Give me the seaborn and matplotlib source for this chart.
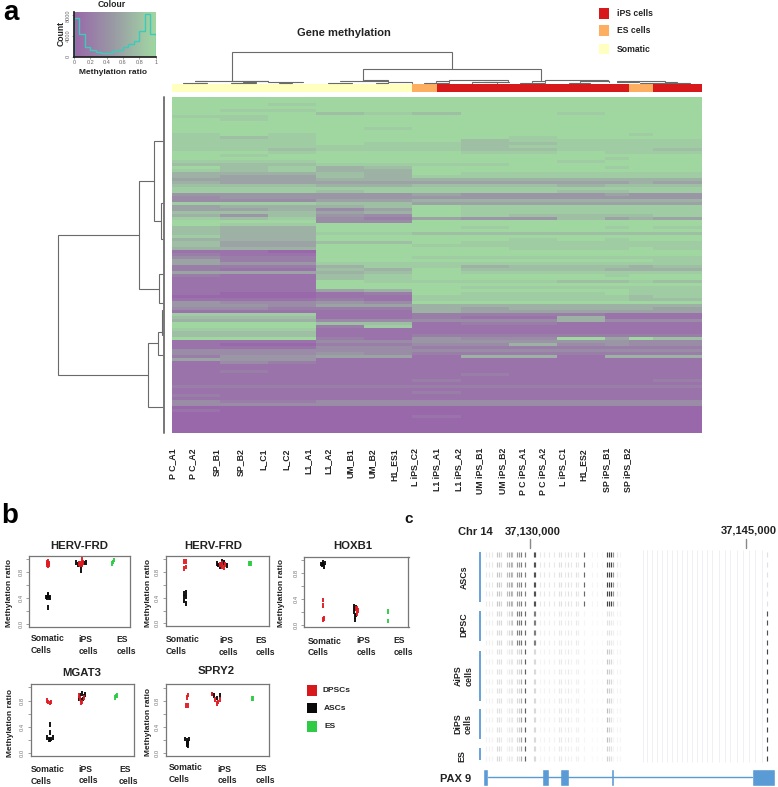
import numpy as np
import pandas as pd
import matplotlib
matplotlib.use("Agg")
import matplotlib.pyplot as plt
import seaborn as sns
from matplotlib.colors import LinearSegmentedColormap, ListedColormap
from matplotlib.patches import Rectangle

# PANEL A DATA

sample_names = ["P C_A1", "P C_A2", "SP_B1", "SP_B2", "L_C1", "L_C2", "L1_A1", "L1_A2",
                "UM_B1", "UM_B2", "H1_ES1", "L iPS_C2", "L1 iPS_A1", "L1 iPS_A2",
                "UM iPS_B1", "UM iPS_B2", "P C iPS_A1", "P C iPS_A2", "L iPS_C1",
                "H1_ES2", "SP iPS_B1", "SP iPS_B2"]
sample_class = [2, 2, 2, 2, 2, 2, 2, 2, 2, 2, 1, 0, 0, 0, 0, 0, 0, 0, 0, 1, 0, 0]
class_names = ["iPS cells", "ES cells", "Somatic"]

# one digit per sample block, 0 = unmethylated, 9 = methylated
block_width = [2, 2, 2, 2, 2, 2, 2, 2, 2, 1, 1, 2]
heat_rows = [
    "999999999999", "999999999999", "998999999999", "999999999999", "988999999999",
    "999787998999", "889999999999", "989999999999", "999999999999", "999999999999",
    "999989999999", "999999999999", "898999999989", "878999989999", "888999788888",
    "888988778888", "888888788888", "887888778887", "998999889888", "989999999999",
    "999999999899", "888999998999", "777888899999", "978679999899", "878669999999",
    "666769888888", "655768888888", "555666666666", "655555555565", "777667776777",
    "888888888888", "888788887788", "444445444544", "344444444444", "333556666666",
    "888775555555", "566679888888", "556359888888", "777569888888", "647439877778",
    "878325447565", "999339999999", "988999999999", "766999899898", "766999999999",
    "766887777777", "866999999999", "666999989899", "755779888888", "755998888888",
    "666999988898", "110999999999", "211999999999", "322998888888", "522999999998",
    "544888888888", "222688677767", "211769777666", "555679888888", "211789999899",
    "111789999999", "111988887787", "111999999999", "111999888888", "111569999988",
    "100129888988", "000118888878", "111218888877", "433439999999", "443556666666",
    "332226566665", "111116555555", "888112222111", "777112116111", "666333336333",
    "999771221111", "999281111111", "888111111111", "777111111111", "777112222222",
    "999214339597", "111334444433", "100223363433", "111332222222", "333333333333",
    "333432222222", "244551661666", "544111111111", "132111111111", "111111111111",
    "111111111111", "121111111111", "111111211111", "111111111111", "111112111112",
    "111111111111", "222222222222", "111111111111", "111112111111", "211111111111",
    "111111111111", "322333333333", "333333333333", "000000000000", "100000000000",
    "000000000000", "000001000000", "000000000000", "000000000000", "000000000000",
    "000000000000", "000000000000",
]

hist_edges = [0, 0.067, 0.133, 0.2, 0.267, 0.333, 0.4, 0.467, 0.533, 0.6, 0.667, 0.733, 0.8, 0.867, 0.933, 1]
hist_counts = [7400, 4300, 1900, 1300, 1000, 800, 800, 1100, 1300, 1800, 2400, 3100, 5000, 8300, 4300]

# PANEL B DATA (x: 1 somatic, 2 iPS, 3 ES)

p1_asc_x = [0.94, 0.97, 1.0, 1.03, 1.06, 1.0, 1.0, 1.95, 2.05, 1.85, 2.15, 2.0, 2.0, 1.9, 2.1]
p1_asc_y = [0.42, 0.41, 0.44, 0.40, 0.41, 0.46, 0.26, 0.94, 0.93, 0.95, 0.95, 0.83, 0.90, 0.92, 0.94]
p1_dps_x = [0.97, 1.0, 1.03, 0.97, 1.03, 1.0, 1.93, 1.97, 2.0, 2.03, 2.07, 2.03]
p1_dps_y = [0.95, 0.97, 0.94, 0.92, 0.92, 0.90, 0.93, 0.92, 0.94, 0.92, 0.95, 1.0]
p1_es_x = [2.96, 2.98, 3.0]
p1_es_y = [0.93, 0.96, 0.99]

p2_asc_x = [0.98, 1.03, 0.97, 1.03, 0.97, 1.03, 2.0, 2.08, 2.16, 2.24, 2.04, 2.12, 1.96]
p2_asc_y = [0.47, 0.49, 0.41, 0.42, 0.35, 0.31, 0.91, 0.92, 0.95, 0.90, 0.89, 0.96, 0.93]
p2_dps_x = [0.98, 1.04, 0.98, 1.04, 2.04, 2.1, 2.16, 2.2, 2.12]
p2_dps_y = [0.96, 0.96, 0.86, 0.88, 0.92, 0.88, 0.87, 0.92, 0.93]
p2_es_x = [2.9, 2.93, 2.96]
p2_es_y = [0.93, 0.93, 0.93]

p3_asc_x = [0.94, 0.97, 1.0, 1.03, 1.06, 1.0, 1.9, 1.93, 1.96, 1.9, 1.93, 1.96, 1.93]
p3_asc_y = [0.94, 0.92, 0.94, 0.90, 0.95, 0.96, 0.28, 0.25, 0.27, 0.2, 0.13, 0.15, 0.07]
p3_dps_x = [0.98, 0.98, 0.98, 1.02, 1.96, 2.0, 2.03, 1.98]
p3_dps_y = [0.38, 0.30, 0.08, 0.10, 0.25, 0.26, 0.22, 0.17]
p3_es_x = [2.91, 2.91]
p3_es_y = [0.20, 0.06]

p4_asc_x = [1.0, 1.0, 0.92, 0.96, 1.0, 1.04, 1.08, 1.85, 1.9, 1.95, 2.0, 2.05, 1.92, 1.98]
p4_asc_y = [0.44, 0.32, 0.24, 0.21, 0.20, 0.22, 0.24, 0.83, 0.88, 0.91, 0.87, 0.89, 0.81, 0.82]
p4_dps_x = [0.9, 0.95, 1.0, 1.04, 1.85, 1.9, 1.95, 2.0, 1.93]
p4_dps_y = [0.80, 0.78, 0.76, 0.78, 0.88, 0.83, 0.78, 0.85, 0.76]
p4_es_x = [2.92, 2.95, 2.98]
p4_es_y = [0.85, 0.87, 0.88]

p5_asc_x = [1.02, 1.06, 1.1, 1.14, 1.06, 1.1, 1.06, 1.1, 1.8, 1.88, 1.96, 2.04]
p5_asc_y = [0.22, 0.2, 0.17, 0.22, 0.15, 0.16, 0.13, 0.12, 0.9, 0.88, 0.84, 0.88]
p5_dps_x = [1.06, 1.1, 1.05, 1.1, 1.82, 1.9, 1.95, 2.0, 2.05]
p5_dps_y = [0.85, 0.89, 0.73, 0.73, 0.9, 0.82, 0.76, 0.78, 0.82]
p5_es_x = [3.0, 3.04]
p5_es_y = [0.83, 0.83]

gene_names = ["HERV-FRD", "HERV-FRD", "HOXB1", "MGAT3", "SPRY2"]

# PANEL C DATA (positions are bp relative to 37,130,000)

cpg_pos = [-3033, -2847, -2639, -2269, -2130, -1991, -1597, -1458, -1320, -1204, -857, -718,
           -579, -347, 301, 370, 718, 995, 1343, 1690, 2060, 2199, 2454, 2685, 2847, 3195,
           3334, 3773, 4306, 4653, 5000, 5394, 5510, 5672, 5811, 6088, 6274, 16506]
asc_level = [.2, .2, .2, .4, .4, .3, .45, .5, .5, .45, .6, .6, .7, .7, .9, .9, .2, .2, .2, .2,
             .25, .25, .2, .25, .2, .25, .2, .8, .1, .1, .1, .95, .95, .95, .6, .2, .1, .25]
dps_level = [.15, .15, .15, .3, .3, .3, .2, .3, .3, .4, .7, .7, .75, .8, .7, .7, .15, .15, .15,
             .15, .2, .2, .15, .2, .15, .2, .15, .1, .05, .05, .05, .25, .25, .2, .15, .1, .1, .9]
aip_level = [.12, .12, .12, .25, .25, .25, .12, .2, .2, .2, .3, .3, .5, .85, .3, .3, .1, .12,
             .12, .12, .2, .2, .15, .2, .12, .15, .15, .1, .05, .05, .05, .4, .35, .3, .1, .1, .1, .95]
dip_level = [.12, .12, .12, .25, .25, .2, .12, .2, .15, .2, .3, .35, .55, .85, .3, .3, .1, .12,
             .12, .12, .2, .2, .15, .2, .12, .15, .15, .1, .05, .05, .05, .45, .35, .25, .1, .1, .1, .95]
esc_level = [.12, .12, .12, .3, .3, .2, .12, .2, .15, .15, .3, .25, .5, .85, .3, .3, .1, .1, .12,
             .12, .2, .2, .15, .15, .12, .15, .15, .1, .05, .05, .05, .35, .3, .25, .1, .1, .1, .95]
group_sizes = [6, 4, 6, 4, 2]
faint_pos = [7848, 8172, 8519, 8843, 9167, 9515, 9862, 10209, 10556, 10904, 11251, 11598, 11945,
             12293, 12640, 13149, 13566, 13913, 14376, 14839, 15255, 15649, 16112]
exon_start = [-3218, 880, 2107, 5625, 15464]
exon_end = [-2870, 1343, 2732, 5834, 17038]

# DENDROGRAMS, read in pixels of the picture

top_links = [(231.7, 452, 52, 81, 69.3), (363, 541, 69.3, 81, 80),
             (183, 207, 83, 83, 83), (195, 207, 81, 81, 81), (195, 268, 80.5, 81, 81),
             (231, 256, 83, 83, 83), (243, 256, 82, 82, 82), (231, 268, 81, 81, 81),
             (268, 303, 82, 82, 82), (279, 292, 82.5, 83, 83), (328, 352, 83, 83, 83),
             (340, 352, 81, 81, 81), (352, 388, 81, 81, 81), (376, 388, 83, 83, 83),
             (364, 388, 80, 81, 81), (388, 412, 82, 83, 83), (424, 449, 83, 83, 83),
             (436, 449, 81, 82, 82), (449, 508, 80, 81, 81), (472, 497, 82, 83, 83),
             (484, 509, 81.5, 82, 82), (520, 545, 82.5, 83, 83), (532, 545, 81, 82, 82),
             (545, 608, 80, 81, 81), (569, 590, 83, 83, 83), (580, 609, 81, 82, 82),
             (617, 639, 81.5, 82, 82), (640, 665, 82.5, 83, 83), (665, 690, 83, 83, 83),
             (665, 677, 82, 83, 83), (617, 665, 81, 82, 82)]
left_links = [(235, 375.3, 58.3, 139, 148.3), (180.7, 289, 139, 154.3, 159.3),
              (141, 220.7, 154.3, 162.7, 161.3), (274, 303, 159.3, 162.7, 162.7),
              (202.7, 239, 161.3, 163, 163), (343, 407, 148.3, 158.3, 163),
              (331.7, 355, 158.3, 162, 162.7), (310, 335, 162, 163, 163)]

label_x = [172.7, 193, 216, 240.7, 263, 285.7, 308, 328, 350, 371.7, 394, 415, 436.7, 459, 480,
           502.7, 523, 543, 562.7, 583, 607, 628]

W, H = 778, 787
FONT = ["Liberation Sans", "DejaVu Sans"]
purple_green = LinearSegmentedColormap.from_list(
    "meth", [(0, "#9968AA"), (0.5, "#9A9CA4"), (0.89, "#A0CCA4"), (1, "#A0D6A0")])
class_colors = ["#D7191C", "#FDAE61", "#FFFFBF"]
type_colors = {"ASC": "#0a0a0a", "DPSC": "#E01B22", "ES": "#2FCB45"}

sns.set_theme(style="white")
plt.rcParams["font.family"] = FONT
fig = plt.figure(figsize=(W / 100, H / 100), dpi=100)


def panel(x0, y0, x1, y1):
    return fig.add_axes([x0 / W, 1 - y1 / H, (x1 - x0) / W, (y1 - y0) / H])


# heatmap and its class bar

heat = np.array([np.repeat([int(c) / 9 for c in row], block_width) for row in heat_rows])
heat_df = pd.DataFrame(heat, columns=sample_names)
ax_heat = panel(171.5, 97, 701.5, 433)
sns.heatmap(heat_df, ax=ax_heat, cmap=purple_green, vmin=0, vmax=1, cbar=False,
            xticklabels=False, yticklabels=False)
ax_heat.set_xlabel("")
ax_heat.set_ylabel("")

ax_bar = panel(171.5, 84.3, 701.5, 92)
sns.heatmap(np.array([sample_class]), ax=ax_bar, cmap=ListedColormap(class_colors), vmin=0, vmax=2,
            cbar=False, xticklabels=False, yticklabels=False)

# colour key

ax_key = panel(74, 12, 155.7, 56.7)
ax_key.imshow(np.linspace(0, 1, 128).reshape(1, -1), cmap=purple_green, aspect="auto",
              extent=(0, 1, 0, 8650), vmin=0, vmax=1)
ax_key.stairs(hist_counts, hist_edges, color="#3BCBBB", lw=1)
ax_key.set_xticks([0, 0.2, 0.4, 0.6, 0.8, 1], ["0", "0.2", "0.4", "0.6", "0.8", "1"])
ax_key.set_yticks([0, 4000, 8000], ["0", "4000", "8000"])
ax_key.tick_params(axis="both", labelsize=4, colors="#666666", length=1.5, width=0.4, pad=1, bottom=True, left=True)
ax_key.tick_params(axis="y", labelrotation=90)
for lab in ax_key.get_yticklabels():
    lab.set_va("center")
for s in ax_key.spines.values():
    s.set_visible(False)
ax_key.spines["left"].set_visible(True)
ax_key.spines["left"].set_color("#222222")
ax_key.spines["bottom"].set_visible(True)
ax_key.spines["bottom"].set_color("#222222")

# panel b strips

strip_boxes = [(29.3, 56, 130, 126.7), (165.5, 56, 269, 126), (304, 56.7, 408.5, 127.3),
               (30.7, 184, 134.3, 256), (165.7, 184.3, 268.5, 256)]
strip_data = [(p1_asc_x, p1_asc_y, p1_dps_x, p1_dps_y, p1_es_x, p1_es_y),
              (p2_asc_x, p2_asc_y, p2_dps_x, p2_dps_y, p2_es_x, p2_es_y),
              (p3_asc_x, p3_asc_y, p3_dps_x, p3_dps_y, p3_es_x, p3_es_y),
              (p4_asc_x, p4_asc_y, p4_dps_x, p4_dps_y, p4_es_x, p4_es_y),
              (p5_asc_x, p5_asc_y, p5_dps_x, p5_dps_y, p5_es_x, p5_es_y)]

for box, pts in zip(strip_boxes, strip_data):
    ax = panel(box[0], box[1] + 500, box[2], box[3] + 500)
    df = pd.DataFrame({
        "x": list(pts[0]) + list(pts[2]) + list(pts[4]),
        "y": list(pts[1]) + list(pts[3]) + list(pts[5]),
        "kind": ["ASC"] * len(pts[0]) + ["DPSC"] * len(pts[2]) + ["ES"] * len(pts[4]),
    })
    sns.scatterplot(data=df, x="x", y="y", hue="kind", palette=type_colors, marker="|", s=11,
                    linewidth=1.35, legend=False, ax=ax)
    ax.set_xlim(0.43, 3.5)
    ax.set_ylim(-0.04, 1.05)
    ax.set_xlabel("")
    ax.set_ylabel("")
    ax.set_xticks([])
    ax.set_yticks([0, 0.2, 0.4, 0.6, 0.8, 1.0], ["0.0", "", "0.4", "", "0.8", ""])
    ax.tick_params(axis="y", left=True, labelsize=4.2, labelcolor="#777777", color="#777777",
                   length=2.5, width=0.5, pad=1.5, labelrotation=90)
    for lab in ax.get_yticklabels():
        lab.set_va("center")
    for s in ax.spines.values():
        s.set_color("#777777")
        s.set_linewidth(0.9)

# panel c methylation tracks

level_groups = [asc_level, dps_level, aip_level, dip_level, esc_level]
rows = []
row_no = 0
for levels, size in zip(level_groups, group_sizes):
    for i in range(size):
        for pos, lev in zip(cpg_pos, levels):
            rows.append({"pos": pos, "row": row_no, "level": lev})
        row_no += 1
track_df = pd.DataFrame(rows)

ax_c = panel(483.3, 550, 776.7, 763.3)
ax_c.vlines(faint_pos, -0.5, 21.3, color="#ECECF4", lw=0.6)
sns.scatterplot(data=track_df, x="pos", y="row", hue="level", palette="Greys", hue_norm=(0, 1.2),
                marker="|", s=13, linewidth=0.85, legend=False, ax=ax_c)
ax_c.set_xlim(-3218, 17154)
ax_c.set_ylim(21.48, -0.51)
ax_c.axis("off")

ax_gene = panel(483.3, 768.5, 776.7, 786)
ax_gene.plot([exon_end[0], exon_start[-1]], [0, 0], color="#5B9BD5", lw=1)
ax_gene.barh([0] * len(exon_start), np.array(exon_end) - np.array(exon_start), left=exon_start,
             height=1, color="#5B9BD5")
ax_gene.set_xlim(-3218, 17154)
ax_gene.set_ylim(-0.5, 0.5)
ax_gene.axis("off")

# everything else goes on an overlay in picture pixels

px = fig.add_axes([0, 0, 1, 1], zorder=10)
px.set_xlim(0, W)
px.set_ylim(H, 0)
px.axis("off")
px.patch.set_alpha(0)

for x0, x1, y, y0, y1 in top_links:
    px.plot([x0, x0, x1, x1], [y0, y, y, y1], color="#6a6a6a", lw=0.8, solid_joinstyle="miter")
for y0, y1, x, x0, x1 in left_links:
    px.plot([x0, x, x, x1], [y0, y0, y1, y1], color="#6a6a6a", lw=0.8, solid_joinstyle="miter")
px.plot([164, 164], [97, 433], color="#777777", lw=1.4)

for name, x in zip(sample_names, label_x):
    px.text(x, 448, name, rotation=90, ha="center", va="top", fontsize=6.3, fontweight="bold", color="#222222")

px.text(344, 32.5, "Gene methylation", ha="center", va="center", fontsize=8, fontweight="bold", color="#222222")
px.text(112, 4.5, "Colour", ha="center", va="center", fontsize=6.2, fontweight="bold", color="#222222")
px.text(61, 34, "Count", ha="center", va="center", rotation=90, fontsize=6.2, fontweight="bold", color="#222222")
px.text(113, 72, "Methylation ratio", ha="center", va="center", fontsize=6, fontweight="bold", color="#222222")

for label, color, y0, y1, ty, tx in zip(class_names, class_colors, [8, 25, 44], [18.7, 36, 54],
                                        [13.5, 30.5, 49], [617, 617.5, 616.5]):
    px.add_patch(Rectangle((599.3, y0), 10, y1 - y0, color=color, lw=0))
    px.text(tx, ty, label, ha="left", va="center", fontsize=6.2, fontweight="bold", color="#222222")

px.text(3, 13, "a", ha="left", va="center", fontsize=20, fontweight="bold", color="black")
px.text(1, 516, "b", ha="left", va="center", fontsize=20, fontweight="bold", color="black")
px.text(409, 519, "c", ha="center", va="center", fontsize=11, fontweight="bold", color="#111111")

# panel b texts

title_pos = [(79.3, 546), (213, 546), (353, 546), (82, 672.5), (216, 671.5)]
ylabel_pos = [(10, 593.3), (148.3, 593.3), (281.7, 593.3), (10.7, 723.3), (149, 721.7)]
cat_pos = [((31, 633.8), (78.3, 635.2), (116.7, 635.2)),
           ((166, 634.8), (219, 636.2), (255.3, 636.2)),
           ((307.3, 636.5), (356.7, 636.2), (393.3, 636.2)),
           ((31, 764.8), (78.3, 764.5), (119, 765.5)),
           ((168.7, 763.5), (217.7, 764.5), (255.3, 764.2))]
cat_names = ["Somatic\nCells", "iPS\ncells", "ES\ncells"]

for name, tpos, ypos, cats in zip(gene_names, title_pos, ylabel_pos, cat_pos):
    px.text(tpos[0], tpos[1], name, ha="center", va="center", fontsize=8.2, fontweight="bold", color="#222222")
    px.text(ypos[0], ypos[1], "Methylation ratio", rotation=90, ha="center", va="center",
            fontsize=6, fontweight="bold", color="#222222")
    for cat, cpos in zip(cat_names, cats):
        px.text(cpos[0], cpos[1], cat, ha="left", va="top", fontsize=6.2, fontweight="bold",
                color="#222222", linespacing=1.4)

for label, color, y0, y1, tx, ty in zip(["DPSCs", "ASCs", "ES"], ["#D7191C", "#0a0a0a", "#2FCB45"],
                                        [685, 702.7, 721], [695.7, 713.3, 731.7], [322.7, 324, 325],
                                        [691, 708.7, 726]):
    px.add_patch(Rectangle((306.7, y0), 10, y1 - y0, color=color, lw=0))
    px.text(tx, ty, label, ha="left", va="center", fontsize=6, fontweight="bold", color="#222222")

# panel c texts

px.text(458, 531.7, "Chr 14", ha="left", va="center", fontsize=8, fontweight="bold", color="#222222")
px.text(505, 531.7, "37,130,000", ha="left", va="center", fontsize=8, fontweight="bold", color="#222222")
px.text(721, 530.7, "37,145,000", ha="left", va="center", fontsize=8, fontweight="bold", color="#222222")
px.plot([529.7, 529.7], [539.3, 547.7], color="#888888", lw=1)
px.plot([745.7, 745.7], [539.3, 548.3], color="#888888", lw=1)

bar_tops = [552.3, 611, 651.3, 709.3, 748.3]
bar_bottoms = [601.7, 641.3, 700.7, 739.3, 760]
for y0, y1 in zip(bar_tops, bar_bottoms):
    px.plot([480.3, 480.3], [y0, y1], color="#5B9BD5", lw=1.3, solid_capstyle="butt")

group_labels = [("ASCs", 464.5, 577.7), ("DPSC", 463.5, 625), ("AiPS\ncells", 464, 675.7),
                ("DiPS\ncells", 463, 724), ("ES", 461.7, 755.7)]
for label, x, y in group_labels:
    px.text(x, y, label, rotation=90, ha="center", va="center", fontsize=6.4, fontweight="bold",
            color="#222222", linespacing=1.3, multialignment="center")

px.text(440, 778.5, "PAX 9", ha="left", va="center", fontsize=8, fontweight="bold", color="#222222")

fig.savefig("out.png", dpi=100)
